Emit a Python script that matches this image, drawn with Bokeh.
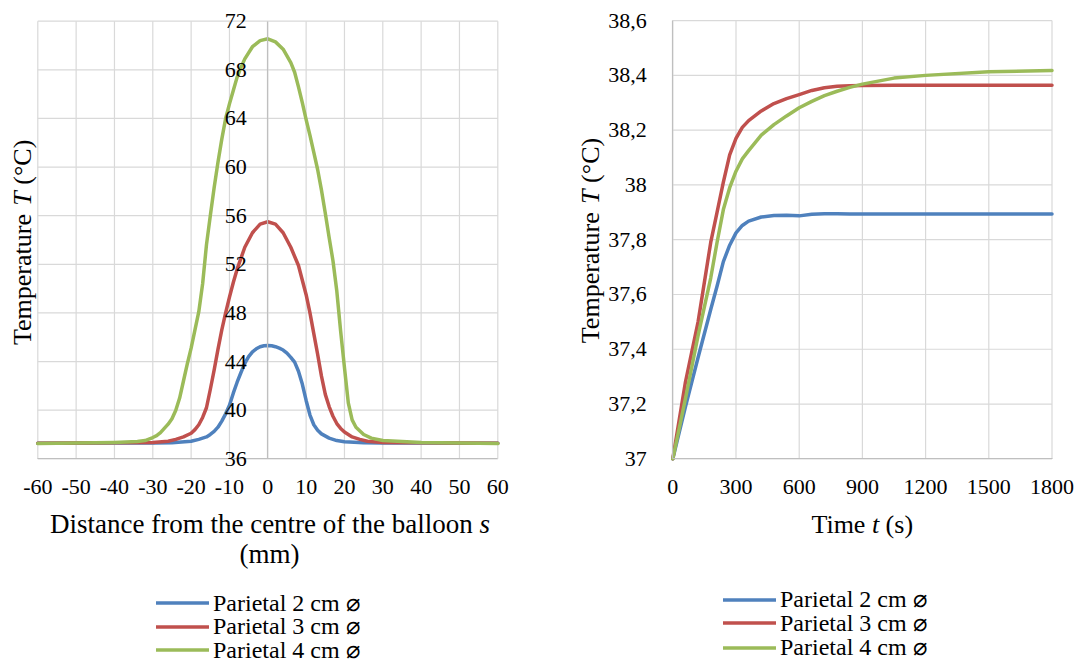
import math

from bokeh.embed import file_html
from bokeh.layouts import row
from bokeh.models import (CustomJSTickFormatter, FixedTicker, Label, Legend,
                          LegendItem, Range1d)
from bokeh.plotting import figure
from bokeh.resources import INLINE

# ---------------- data: temperature profile along the balloon axis ----------------
s_2cm = [-60, -50, -40, -30, -25, -20, -18, -16, -15, -14, -13, -12, -11, -10, -9, -8,
         -7, -6, -5, -4, -3, -2, -1, 0, 1, 2, 3, 4, 5, 6, 7, 8, 9, 10, 11, 12, 13, 14,
         16, 18, 20, 25, 30, 40, 50, 60]
T_2cm = [37.27, 37.28, 37.29, 37.30, 37.33, 37.45, 37.60, 37.80, 38.00, 38.25, 38.60,
         39.10, 39.70, 40.40, 41.40, 42.30, 43.10, 43.85, 44.40, 44.80, 45.05, 45.22,
         45.30, 45.33, 45.30, 45.22, 45.10, 44.95, 44.70, 44.35, 43.95, 43.20, 42.15,
         40.80, 39.60, 38.80, 38.35, 38.05, 37.70, 37.50, 37.40, 37.32, 37.30, 37.29,
         37.28, 37.27]

s_3cm = [-60, -50, -40, -30, -26, -24, -22, -20, -19, -18, -17, -16, -15, -14, -13,
         -12, -11, -10, -9, -8, -6, -4, -2, 0, 2, 4, 6, 8, 10, 11, 12, 13, 14, 15, 16,
         17, 18, 19, 20, 22, 24, 26, 30, 40, 50, 60]
T_3cm = [37.28, 37.30, 37.32, 37.35, 37.45, 37.60, 37.80, 38.10, 38.40, 38.80, 39.40,
         40.20, 41.70, 43.30, 45.00, 46.60, 48.00, 49.30, 50.50, 51.60, 53.40, 54.60,
         55.30, 55.50, 55.30, 54.60, 53.40, 51.90, 49.50, 48.00, 46.30, 44.60, 42.80,
         41.30, 40.30, 39.50, 38.90, 38.50, 38.20, 37.80, 37.60, 37.45, 37.35, 37.32,
         37.30, 37.28]

s_4cm = [-60, -50, -40, -34, -32, -30, -29, -28, -27, -26, -25, -24, -23, -22, -21,
         -20, -19, -18, -17, -16, -15, -14, -13, -12, -11, -10, -9, -8, -7, -6, -4,
         -2, 0, 2, 4, 6, 7, 8, 9, 10, 11, 12, 13, 14, 15, 16, 17, 18, 19, 20, 21, 22,
         23, 25, 27, 30, 40, 50, 60]
T_4cm = [37.25, 37.30, 37.35, 37.42, 37.50, 37.75, 37.90, 38.15, 38.50, 38.85, 39.30,
         40.00, 41.00, 42.40, 43.80, 45.10, 46.60, 48.10, 50.40, 53.60, 56.00, 58.30,
         60.40, 62.30, 64.00, 65.20, 66.30, 67.40, 68.20, 68.90, 69.90, 70.40, 70.55,
         70.30, 69.70, 68.60, 67.80, 66.60, 65.30, 63.90, 62.60, 61.20, 59.80, 58.10,
         56.20, 54.20, 52.30, 49.80, 46.50, 43.50, 40.60, 39.20, 38.60, 38.00, 37.70,
         37.50, 37.35, 37.30, 37.25]

dist_ticks = [-60, -50, -40, -30, -20, -10, 0, 10, 20, 30, 40, 50, 60]
dist_temp_ticks = [36, 40, 44, 48, 52, 56, 60, 64, 68, 72]

# ---------------- data: temperature rise over time ----------------
time_s = [0, 60, 120, 180, 210, 240, 270, 300, 330, 360, 420, 480, 540, 600, 660, 720,
          780, 840, 900, 1050, 1200, 1500, 1800]
Tt_2cm = [37.000, 37.190, 37.370, 37.545, 37.630, 37.720, 37.780, 37.825, 37.852,
          37.868, 37.883, 37.888, 37.889, 37.887, 37.893, 37.895, 37.895, 37.894,
          37.894, 37.894, 37.894, 37.894, 37.894]
Tt_3cm = [37.000, 37.280, 37.500, 37.790, 37.900, 38.010, 38.110, 38.170, 38.210,
          38.235, 38.270, 38.297, 38.315, 38.330, 38.345, 38.355, 38.360, 38.362,
          38.363, 38.364, 38.364, 38.364, 38.364]
Tt_4cm = [37.000, 37.220, 37.450, 37.660, 37.790, 37.910, 37.990, 38.050, 38.095,
          38.125, 38.182, 38.220, 38.252, 38.282, 38.305, 38.326, 38.342, 38.356,
          38.368, 38.390, 38.400, 38.413, 38.418]

time_ticks = [0, 300, 600, 900, 1200, 1500, 1800]
time_temp_ticks = [37.0, 37.2, 37.4, 37.6, 37.8, 38.0, 38.2, 38.4, 38.6]

series_names = ["Parietal 2 cm \u2300", "Parietal 3 cm \u2300", "Parietal 4 cm \u2300"]
series_colors = ["#4F81BD", "#C0504D", "#9BBB59"]

# ---------------- styling ----------------
FONT = "Liberation Serif"
TICK_SIZE = "22px"
TITLE_SIZE = "26px"
LEGEND_SIZE = "24px"
GRID = "#D9D9D9"
AXIS = "#BFBFBF"
FIG_H = 664
LINE_W = 3.5


def make_panel(width, xlim, ylim, box, xticks, yticks, y_axis_at):
    """A figure whose frame fills the whole canvas; the plot box
    (left, top, right, bottom pixels) holds the data limits."""
    bl, bt, br, bb = box
    kx = (br - bl) / (xlim[1] - xlim[0])
    ky = (bb - bt) / (ylim[1] - ylim[0])
    xr = Range1d(xlim[0] - bl / kx, xlim[1] + (width - br) / kx)
    yr = Range1d(ylim[0] - (FIG_H - bb) / ky, ylim[1] + bt / ky)
    p = figure(width=width, height=FIG_H, x_range=xr, y_range=yr,
               output_backend="svg", toolbar_location=None,
               min_border=0, min_border_left=0, min_border_right=0,
               min_border_top=0, min_border_bottom=0)
    p.outline_line_color = None
    p.background_fill_color = "white"
    p.border_fill_color = "white"
    p.xgrid.visible = False
    p.ygrid.visible = False

    # grid lines confined to the plot box
    p.segment(x0=xticks, y0=[ylim[0]] * len(xticks), x1=xticks,
              y1=[ylim[1]] * len(xticks), line_color=GRID, line_width=1.2)
    p.segment(x0=[xlim[0]] * len(yticks), y0=yticks, x1=[xlim[1]] * len(yticks),
              y1=yticks, line_color=GRID, line_width=1.2)

    p.xaxis.fixed_location = ylim[0]
    p.xaxis.bounds = xlim
    p.yaxis.fixed_location = y_axis_at
    p.yaxis.bounds = ylim
    p.xaxis.ticker = FixedTicker(ticks=xticks)
    p.yaxis.ticker = FixedTicker(ticks=yticks)
    for ax in (p.xaxis, p.yaxis):
        ax.axis_line_color = AXIS
        ax.axis_line_width = 1.2
        ax.major_tick_line_color = None
        ax.minor_tick_line_color = None
        ax.major_label_text_font = FONT
        ax.major_label_text_font_size = TICK_SIZE
        ax.major_label_text_color = "black"
    p.xaxis.major_label_standoff = 15
    p.yaxis.major_label_standoff = 15
    p.xaxis.formatter = CustomJSTickFormatter(code="return String(tick);")
    return p


def add_text(p, x, y, text, italic=False, angle=0.0, align="left", size=TITLE_SIZE):
    p.add_layout(Label(x=x, y=y, x_units="screen", y_units="screen", text=text,
                       text_font=FONT, text_font_size=size,
                       text_font_style="italic" if italic else "normal",
                       text_align=align, text_baseline="middle", angle=angle,
                       text_color="black"))


def add_legend(p, renderers, x, row_centres):
    # one entry per legend box so that the row pitch can be set freely
    h = 27
    for name, r, yc in zip(series_names, renderers, row_centres):
        leg = Legend(items=[LegendItem(label=name, renderers=[r])],
                     location=(x, yc - h / 2), orientation="vertical",
                     border_line_color=None, background_fill_alpha=0,
                     padding=0, margin=0, spacing=0,
                     glyph_width=53, glyph_height=h, label_height=h,
                     label_standoff=4, label_text_font=FONT,
                     label_text_font_size=LEGEND_SIZE, label_text_color="black",
                     label_text_baseline="middle")
        p.add_layout(leg)


def add_ytitle(p, x, y0):
    # "Temperature T (°C)" written bottom to top
    up = math.pi / 2
    add_text(p, x, y0, "Temperature", angle=up)
    add_text(p, x, y0 + 139.3, "T", italic=True, angle=up)
    add_text(p, x, y0 + 160.3, "(\u00b0C)", angle=up)


# ---------------- left panel: profile ----------------
left = make_panel(560, (-60, 60), (36, 72), (37.3, 20.7, 497.3, 458.3),
                  dist_ticks, dist_temp_ticks, 0)

left_lines = []
for s, T, c in zip([s_2cm, s_3cm, s_4cm], [T_2cm, T_3cm, T_4cm], series_colors):
    left_lines.append(left.line(s, T, line_color=c, line_width=LINE_W,
                                line_join="round", line_cap="round"))

add_ytitle(left, 22, 319.5)
add_text(left, 472.3, 141, "Distance from the centre of the balloon", align="right",
         size="27px")
add_text(left, 479.0, 141, "s", italic=True, size="27px")
add_text(left, 269.0, 111, "(mm)", align="center", size="27px")
add_legend(left, left_lines, 156, [61, 37.5, 14])

# ---------------- right panel: time evolution ----------------
right = make_panel(523, (0, 1800), (37, 38.6), (112.3, 20.1, 491.5, 458.3),
                   time_ticks, time_temp_ticks, 0)
right.yaxis.major_label_standoff = 20
right.yaxis.formatter = CustomJSTickFormatter(
    code="return String(Math.round(tick * 10) / 10).replace('.', ',');")

right_lines = []
for T, c in zip([Tt_2cm, Tt_3cm, Tt_4cm], series_colors):
    right_lines.append(right.line(time_s, T, line_color=c, line_width=LINE_W,
                                  line_join="round", line_cap="round"))

add_ytitle(right, 30, 321.3)
add_text(right, 304.9, 140, "Time", align="right")
add_text(right, 311.4, 140, "t", italic=True)
add_text(right, 325.1, 140, "(s)")
add_legend(right, right_lines, 163, [64.5, 41, 16.5])

layout = row(left, right, spacing=0)

with open("out.html", "w") as f:
    f.write(file_html(layout, INLINE))
